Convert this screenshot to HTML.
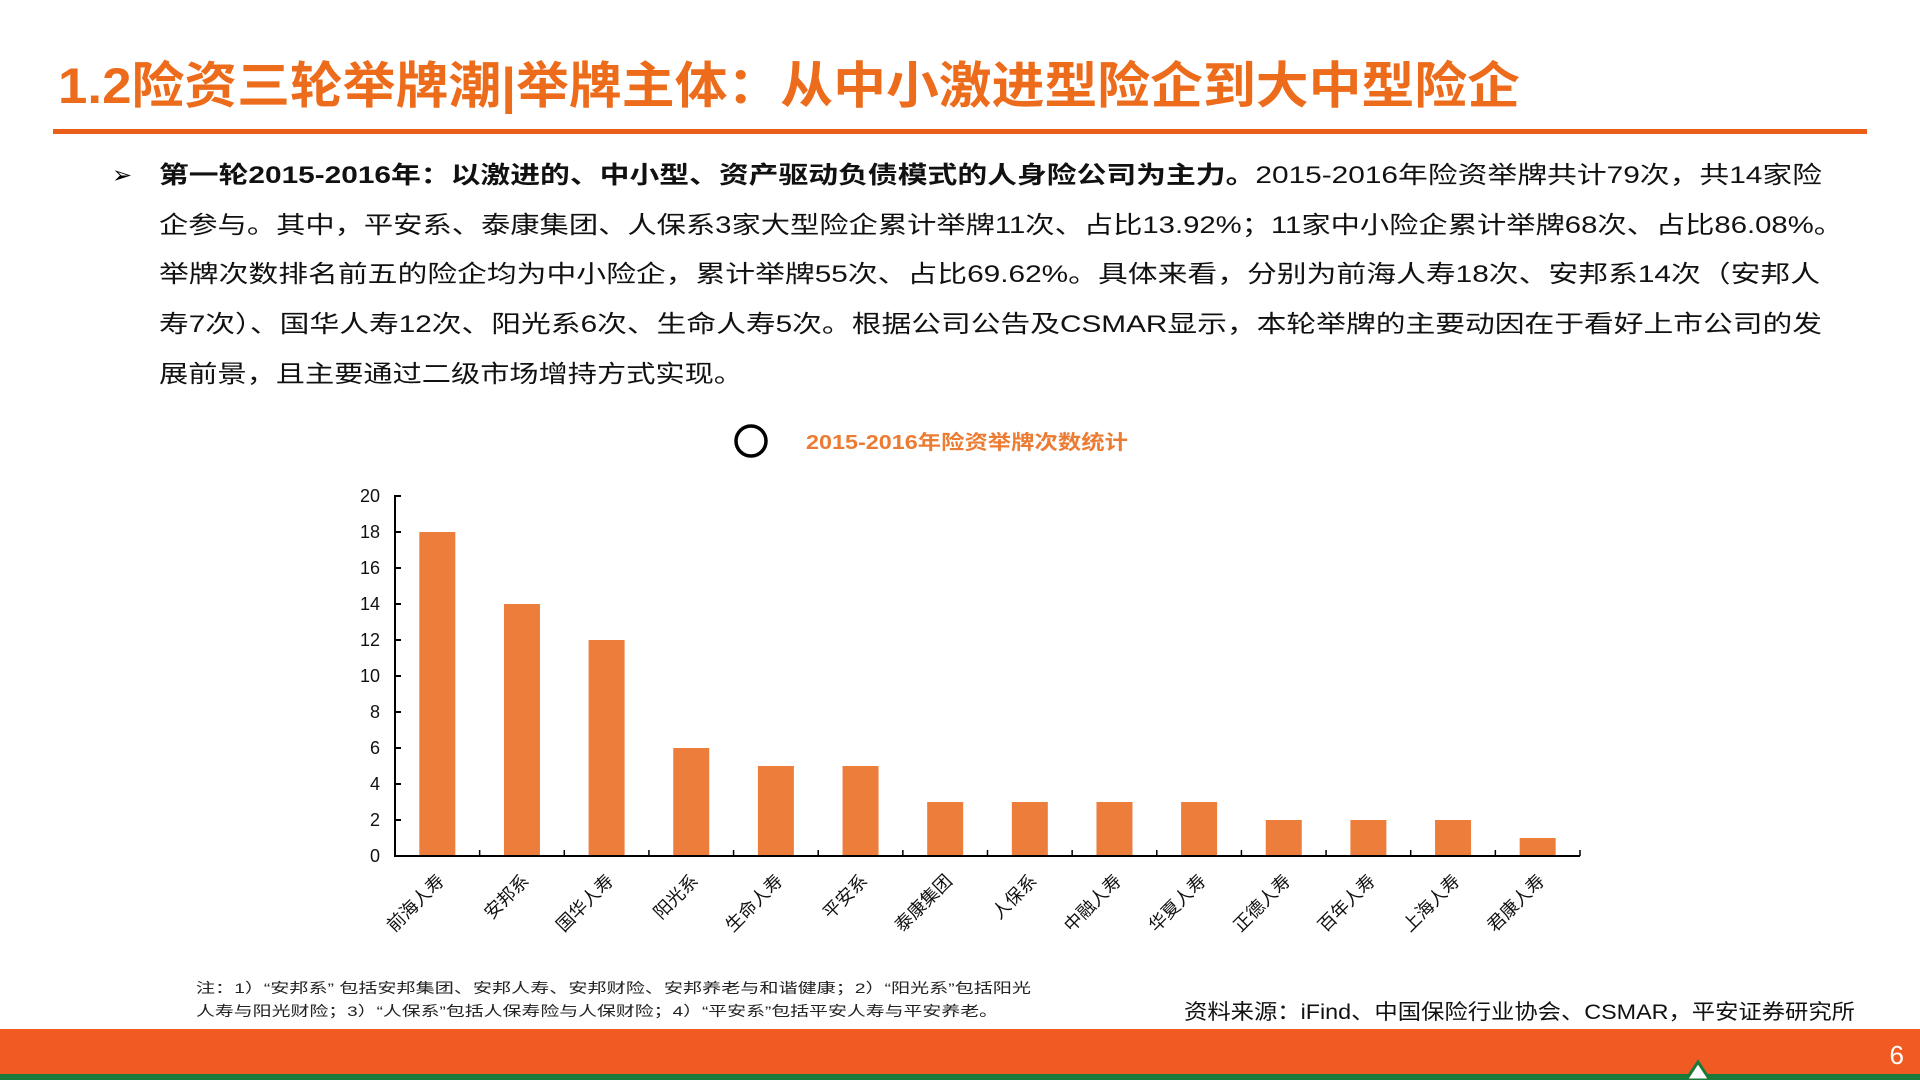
<!DOCTYPE html>
<html><head><meta charset="utf-8"><style>
html,body{margin:0;padding:0;background:#fff;}
svg{display:block;font-family:"Liberation Sans","Noto Sans CJK SC",sans-serif;}
</style></head><body>
<svg id="page" width="1920" height="1080" viewBox="0 0 1920 1080">
<text x="58" y="103" font-size="50" font-weight="bold" fill="#ec6c1c" textLength="1462" lengthAdjust="spacingAndGlyphs">1.2险资三轮举牌潮|举牌主体：从中小激进型险企到大中型险企</text>
<rect x="53" y="129" width="1814" height="5" fill="#ec5f1a"/>
<text x="112" y="183" font-size="24">➢</text>
<g font-size="24" fill="#111">
<text x="159" y="183" textLength="1663" lengthAdjust="spacingAndGlyphs"><tspan font-weight="bold">第一轮2015-2016年：以激进的、中小型、资产驱动负债模式的人身险公司为主力。</tspan>2015-2016年险资举牌共计79次，共14家险</text>
<text x="159" y="233" textLength="1684" lengthAdjust="spacingAndGlyphs">企参与。其中，平安系、泰康集团、人保系3家大型险企累计举牌11次、占比13.92%；11家中小险企累计举牌68次、占比86.08%。</text>
<text x="159" y="282" textLength="1661" lengthAdjust="spacingAndGlyphs">举牌次数排名前五的险企均为中小险企，累计举牌55次、占比69.62%。具体来看，分别为前海人寿18次、安邦系14次（安邦人</text>
<text x="159" y="332" textLength="1663" lengthAdjust="spacingAndGlyphs">寿7次）、国华人寿12次、阳光系6次、生命人寿5次。根据公司公告及CSMAR显示，本轮举牌的主要动因在于看好上市公司的发</text>
<text x="159" y="382" textLength="584" lengthAdjust="spacingAndGlyphs">展前景，且主要通过二级市场增持方式实现。</text>
</g>
<circle cx="751" cy="441" r="15" fill="none" stroke="#000" stroke-width="3.5"/>
<text x="806" y="449" font-size="20" font-weight="bold" fill="#ec7c33" textLength="322" lengthAdjust="spacingAndGlyphs">2015-2016年险资举牌次数统计</text>
<g id="chart"></g>
<g font-size="14" fill="#222">
<text x="196" y="993" textLength="835" lengthAdjust="spacingAndGlyphs">注：1）“安邦系” 包括安邦集团、安邦人寿、安邦财险、安邦养老与和谐健康；2）“阳光系”包括阳光</text>
<text x="196" y="1016" textLength="802" lengthAdjust="spacingAndGlyphs">人寿与阳光财险；3）“人保系”包括人保寿险与人保财险；4）“平安系”包括平安人寿与平安养老。</text>
</g>
<text x="1184" y="1019" font-size="21" fill="#111" textLength="671" lengthAdjust="spacingAndGlyphs">资料来源：iFind、中国保险行业协会、CSMAR，平安证券研究所</text>
<rect x="0" y="1029" width="1920" height="45" fill="#f15a22"/>
<rect x="0" y="1074" width="1920" height="6" fill="#1a7a3a"/>
<path d="M1686 1080 L1698 1062 L1710 1080 Z" fill="#fff" stroke="#1a7a3a" stroke-width="3"/>
<text x="1904" y="1064" font-size="26" fill="#fff" text-anchor="end">6</text>
</svg>
<script>
const categories=["前海人寿","安邦系","国华人寿","阳光系","生命人寿","平安系","泰康集团","人保系","中融人寿","华夏人寿","正德人寿","百年人寿","上海人寿","君康人寿"];
const values=[18,14,12,6,5,5,3,3,3,3,2,2,2,1];
const yTicks=[0,2,4,6,8,10,12,14,16,18,20];
const NS="http://www.w3.org/2000/svg";
const g=document.getElementById('chart');
const x0=395,x1=1580,y0=856,yTop=496,yMax=20;
const band=(x1-x0)/categories.length,bw=36;
function yS(v){return y0-(v/yMax)*(y0-yTop);}
function xC(i){return x0+band*(i+0.5);}
function mk(t,a){const e=document.createElementNS(NS,t);for(const k in a)e.setAttribute(k,a[k]);g.appendChild(e);return e;}
values.forEach((v,i)=>{
 const r=mk('rect',{x:xC(i)-bw/2,y:yS(v),width:bw,height:y0-yS(v),fill:'#ed7d3a'});
 
 
 const t=mk('text',{transform:`translate(${xC(i)+8},${y0+26}) rotate(-45)`,'text-anchor':'end','font-size':'18',fill:'#111'});
 t.textContent=categories[i];
 
 
});
const ax=mk('path',{d:`M${x0+6} ${yTop}H${x0}V${y0}H${x1}`,fill:'none',stroke:'#000','stroke-width':2});


yTicks.forEach(v=>{
 const l=mk('line',{x1:x0,x2:x0+6,y1:yS(v),y2:yS(v),stroke:'#000','stroke-width':2});
 
 
 const t=mk('text',{x:x0-15,y:yS(v)+6,'text-anchor':'end','font-size':'18',fill:'#111'});
 t.textContent=v;
 
 
});
for(let i=0;i<=categories.length;i++){
 const l=mk('line',{x1:x0+band*i,x2:x0+band*i,y1:y0,y2:y0-6,stroke:'#000','stroke-width':1.5});
 
 
}
</script>
</body></html>
